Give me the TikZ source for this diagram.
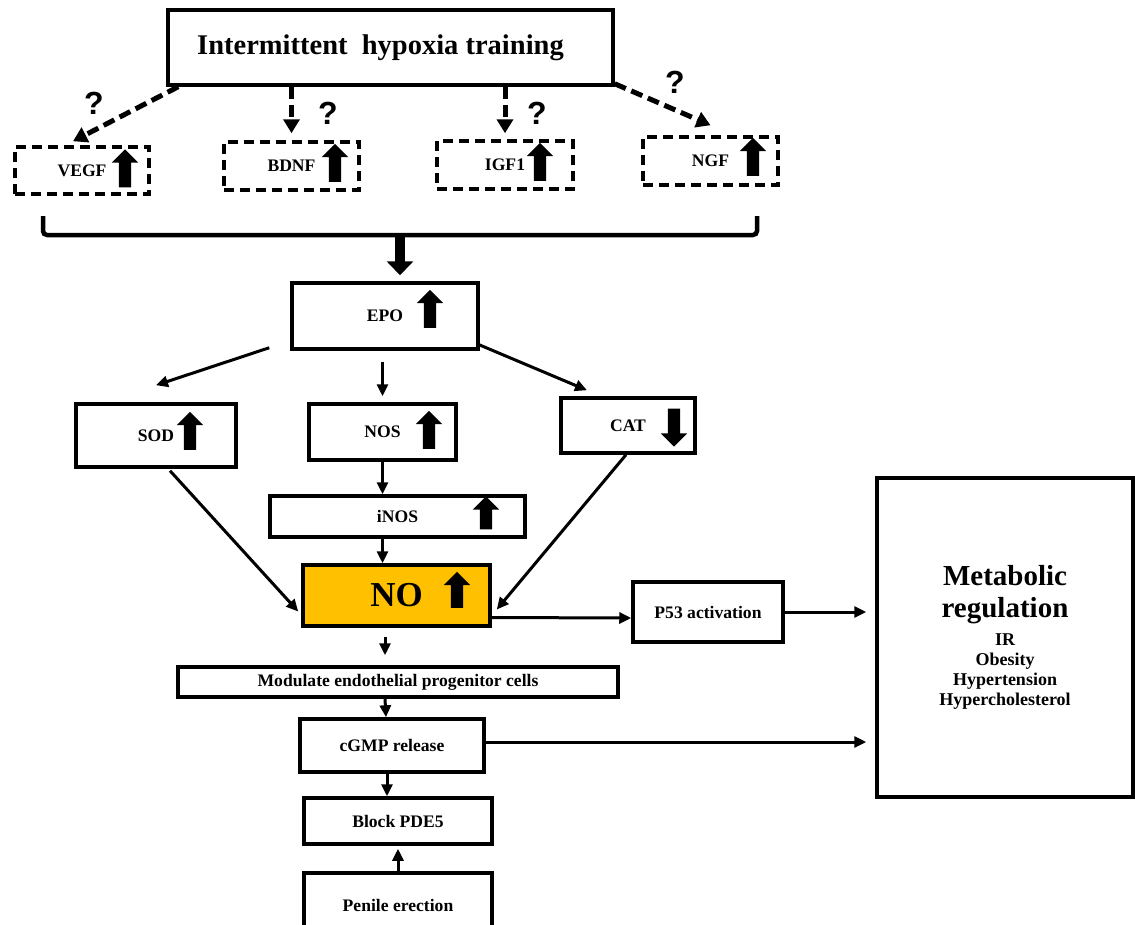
\documentclass[tikz,border=0pt]{standalone}
\usepackage{fontspec}
\setmainfont{Liberation Serif}
\newfontfamily\qmfont{Liberation Sans}
\usetikzlibrary{arrows.meta,shapes.arrows}
\definecolor{noyellow}{HTML}{FFC000}

\begin{document}
\begin{tikzpicture}[x=1pt,y=-1pt]
   \tikzstyle{box}=[draw, line width=3.5pt, inner sep=0pt, font=\bfseries\fontsize{17.6}{20}\selectfont]
   \tikzstyle{dbox}=[box, dash pattern=on 10pt off 6pt]
   \tikzstyle{uparr}=[single arrow, fill=black, inner sep=6pt, single arrow head extend=7pt, minimum height=38pt, shape border rotate=90]
   \tikzstyle{dnarr}=[uparr, shape border rotate=270]
   \tikzstyle{link}=[line width=3pt, -{Triangle[length=12pt,width=11pt]}]
   \tikzstyle{dlink}=[line width=5pt, dash pattern=on 12pt off 6pt, -{Triangle[length=14pt,width=16pt]}]
   \tikzstyle{qmark}=[font=\qmfont\bfseries\fontsize{32}{32}\selectfont]

\useasboundingbox (0,0) rectangle (1135,924);
\clip (0,0) rectangle (1135,924);
\fill[white] (0,0) rectangle (1135,924);

% top row
\node[box, minimum width=445, minimum height=75, font=\bfseries\fontsize{28.5}{30}\selectfont] (iht) at (390.5,47.5) {Intermittent\ \ hypoxia training\hspace*{20pt}};
\node[dbox, minimum width=134, minimum height=47] (vegf) at (82,170.5) {VEGF};
\node[dbox, minimum width=135, minimum height=48] (bdnf) at (291.5,166) {BDNF};
\node[dbox, minimum width=136, minimum height=48] (igf) at (505,165) {IGF1};
\node[dbox, minimum width=135, minimum height=48] (ngf) at (710.5,161) {NGF};
\node[uparr] (vegf-up) at (125,171.5) {};
\node[uparr] (bdnf-up) at (335,166) {};
\node[uparr] (igf-up) at (540,165) {};
\node[uparr] (ngf-up) at (753,160) {};
\node[qmark] (q-vegf) at (94,103) {?};
\node[qmark] (q-bdnf) at (328,113) {?};
\node[qmark] (q-igf) at (537,113) {?};
\node[qmark] (q-ngf) at (675,82) {?};

\draw[dlink] ([xshift=12pt]iht.south west) -- ([xshift=-9pt,yshift=4pt]vegf.north);
\draw[dlink] (bdnf.north |- iht.south) -- ([yshift=7pt]bdnf.north);
\draw[dlink] (igf.north |- iht.south) -- ([yshift=6pt]igf.north);
\draw[dlink] ([yshift=3pt]iht.south east) -- ([yshift=10pt]ngf.north);

% bracket
\coordinate (bl) at (43,216);
\coordinate (br) at (757,216);
\coordinate (bm) at (400,235);
\draw[line width=4.5pt, rounded corners=4pt] (bl) -- ++(0,19) -- (757,235) -- (br);

% middle
\node[box, minimum width=186, minimum height=66] (epo) at (385,316) {EPO};
\node[box, minimum width=160, minimum height=63] (sod) at (156,435.5) {SOD};
\node[box, minimum width=147, minimum height=56] (nos) at (382.5,432) {NOS};
\node[box, minimum width=134, minimum height=55] (cat) at (628,425.5) {CAT};
\node[box, minimum width=255, minimum height=41] (inos) at (397.5,516.5) {iNOS};
\node[box, minimum width=187, minimum height=61, fill=noyellow, font=\bfseries\fontsize{35}{40}\selectfont] (no) at (396.5,595.5) {NO};
\node[uparr] (epo-up) at (430,312) {};
\node[uparr] (sod-up) at (190,434) {};
\node[uparr] (nos-up) at (429,433) {};
\node[dnarr] (cat-dn) at (674,424.5) {};
\node[uparr, minimum height=33pt] (inos-up) at (486,516) {};
\node[uparr, minimum height=36pt] (no-up) at (457,593) {};

\draw[line width=10pt, -{Triangle[length=14pt,width=26pt]}, shorten >=6pt] (bm) -- (bm |- epo.north);
\draw[link] ([xshift=-21pt,yshift=3pt]epo.south west) -- ([yshift=17pt]sod.north);
\draw[link, shorten <=11pt] (nos.north |- epo.south) -- ([yshift=6pt]nos.north);
\draw[link] ([xshift=-3pt,yshift=7pt]epo.south east) -- ([xshift=-41pt,yshift=6pt]cat.north);
\draw[link] (nos.south) -- (nos.south |- inos.north);
\draw[link] (nos.south |- inos.south) -- (nos.south |- no.north);
\draw[link] ([xshift=14pt,yshift=-2pt]sod.south) -- ([xshift=-3pt,yshift=-16pt]no.west);
\draw[link] ([xshift=-2pt]cat.south) -- ([xshift=5pt,yshift=-14pt]no.east);

% right side
\node[box, minimum width=150, minimum height=60] (p53) at (708,612) {P53 activation};
\node[box, minimum width=256, minimum height=319, align=center, font=\bfseries\fontsize{18}{20}\selectfont] (meta) at (1005,637.5)
   {{\fontsize{29}{30}\selectfont Metabolic}\\[10pt]{\fontsize{29}{30}\selectfont regulation}\\[8pt]IR\\Obesity\\Hypertension\\Hypercholesterol};
\draw[link] ([yshift=-22pt]no.east) -- ([yshift=-6pt]p53.west);
\draw[link, shorten >=9pt] (p53.east) -- (p53.east -| meta.west);

% bottom
\node[box, minimum width=440, minimum height=30] (mod) at (398,682) {Modulate endothelial progenitor cells};
\node[box, minimum width=184, minimum height=53] (cgmp) at (392,745.5) {cGMP release};
\node[box, minimum width=188, minimum height=46] (block) at (398,821) {Block PDE5};
\node[box, minimum width=188, minimum height=64] (penile) at (398,905) {Penile erection};
\draw[link] ([xshift=-11.5pt,yshift=-9pt]no.south) -- ([xshift=-13pt,yshift=10pt]mod.north);
\draw[link] ([xshift=-13pt]mod.south) -- ([xshift=-6pt]cgmp.north);
\draw[link] ([xshift=-5pt]cgmp.south) -- ([xshift=-11pt]block.north);
\draw[link] (penile.north) -- ([yshift=-3pt]block.south);
\draw[link, shorten >=9pt] ([yshift=3.5pt]cgmp.east) -- ([yshift=3.5pt]cgmp.east -| meta.west);

\end{tikzpicture}
\end{document}
